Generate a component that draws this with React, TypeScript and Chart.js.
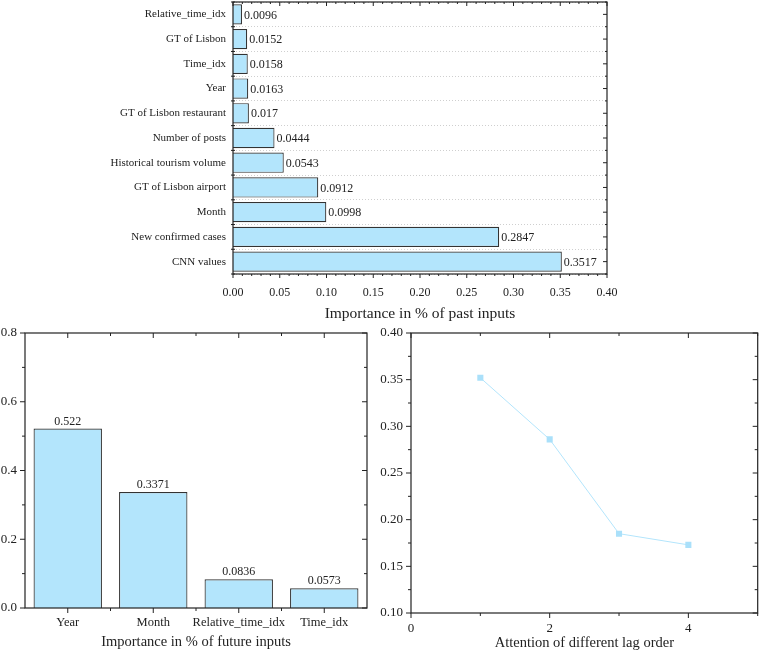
import React, { useEffect, useRef } from 'react';
import { Chart, registerables } from 'chart.js';
Chart.register(...registerables);

// ---------- data ----------
const pastLabels = [
  'Relative_time_idx',
  'GT of Lisbon',
  'Time_idx',
  'Year',
  'GT of Lisbon restaurant',
  'Number of posts',
  'Historical tourism volume',
  'GT of Lisbon airport',
  'Month',
  'New confirmed cases',
  'CNN values',
];
const pastValues = [0.0096, 0.0152, 0.0158, 0.0163, 0.017, 0.0444, 0.0543, 0.0912, 0.0998, 0.2847, 0.3517];

const futureLabels = ['Year', 'Month', 'Relative_time_idx', 'Time_idx'];
const futureValues = [0.522, 0.3371, 0.0836, 0.0573];

const lagOrders = [1, 2, 3, 4];
const lagAttention = [0.352, 0.286, 0.185, 0.173];

const pastTickMajor = [0, 0.05, 0.1, 0.15, 0.2, 0.25, 0.3, 0.35, 0.4];
const pastTickMinor = [0.01, 0.02, 0.03, 0.04, 0.06, 0.07, 0.08, 0.09, 0.11, 0.12, 0.13, 0.14, 0.16, 0.17, 0.18, 0.19, 0.21, 0.22, 0.23, 0.24, 0.26, 0.27, 0.28, 0.29, 0.31, 0.32, 0.33, 0.34, 0.36, 0.37, 0.38, 0.39];
const futureYMajor = [0, 0.2, 0.4, 0.6, 0.8];
const futureYMinor = [0.1, 0.3, 0.5, 0.7];
const lagYMajor = [0.1, 0.15, 0.2, 0.25, 0.3, 0.35, 0.4];
const lagYMinor = [0.125, 0.175, 0.225, 0.275, 0.325, 0.375];
const lagXMajor = [0, 2, 4];
const lagXMinor = [1, 3, 5];

// ---------- style ----------
const FONT = '"Liberation Serif", "Times New Roman", serif';
const BAR_FILL = 'rgb(179,229,252)';
const INK = '#222';

Chart.defaults.font.family = FONT;
Chart.defaults.color = INK;

const centers = (n: number) => Array.from({ length: n }, (_, i) => i);
const bounds = (n: number) => Array.from({ length: n + 1 }, (_, i) => i - 0.5);

const noPad = (s: any) => {
  s.paddingTop = 0;
  s.paddingBottom = 0;
  s.paddingLeft = 0;
  s.paddingRight = 0;
};

const framePlugin = {
  id: 'frame',
  afterDatasetsDraw(chart: any, _args: any, opts: any) {
    const { ctx, chartArea: a } = chart;
    ctx.save();
    ctx.strokeStyle = INK;
    ctx.lineWidth = 1.2;
    ctx.setLineDash([]);
    ctx.strokeRect(a.left, a.top, a.right - a.left, a.bottom - a.top);
    ctx.lineWidth = 1;
    for (const t of opts.ticks || []) {
      const sc = chart.scales[t.scale];
      for (const v of t.values) {
        const p = sc.getPixelForValue(v);
        ctx.beginPath();
        if (t.side === 'left' || t.side === 'right') {
          const x0 = t.side === 'left' ? a.left : a.right;
          const o = t.side === 'left' ? -1 : 1;
          let s = x0, e = x0;
          if (t.dir === 'out' || t.dir === 'both') e = x0 + o * t.len;
          if (t.dir === 'in' || t.dir === 'both') s = x0 - o * t.len;
          ctx.moveTo(s, p);
          ctx.lineTo(e, p);
        } else {
          const y0 = t.side === 'top' ? a.top : a.bottom;
          const o = t.side === 'top' ? -1 : 1;
          let s = y0, e = y0;
          if (t.dir === 'out' || t.dir === 'both') e = y0 + o * t.len;
          if (t.dir === 'in' || t.dir === 'both') s = y0 - o * t.len;
          ctx.moveTo(p, s);
          ctx.lineTo(p, e);
        }
        ctx.stroke();
      }
    }
    ctx.restore();
  },
};

const valueLabelPlugin = {
  id: 'valueLabels',
  afterDatasetsDraw(chart: any, _args: any, opts: any) {
    if (!opts || !opts.display) return;
    const { ctx } = chart;
    const meta = chart.getDatasetMeta(0);
    const data = chart.data.datasets[0].data;
    ctx.save();
    ctx.font = `${opts.size}px ${FONT}`;
    ctx.fillStyle = INK;
    meta.data.forEach((el: any, i: number) => {
      const txt = String(data[i]);
      if (opts.horizontal) {
        ctx.textAlign = 'left';
        ctx.textBaseline = 'middle';
        ctx.fillText(txt, el.x + 2, el.y + 1);
      } else {
        ctx.textAlign = 'center';
        ctx.textBaseline = 'bottom';
        ctx.fillText(txt, el.x, el.y - 1);
      }
    });
    ctx.restore();
  },
};

function useChart(ref: React.RefObject<HTMLCanvasElement>, makeConfig: () => any) {
  useEffect(() => {
    if (!ref.current) return;
    const chart = new Chart(ref.current, makeConfig());
    return () => chart.destroy();
  }, []);
}

function PastChart() {
  const ref = useRef<HTMLCanvasElement>(null);
  useChart(ref, () => ({
    type: 'bar',
    data: {
      labels: pastLabels,
      datasets: [
        {
          data: pastValues,
          backgroundColor: BAR_FILL,
          borderColor: '#333',
          borderWidth: 1.2,
          barPercentage: 0.82,
          categoryPercentage: 1,
        },
      ],
    },
    plugins: [framePlugin, valueLabelPlugin],
    options: {
      responsive: false,
      animation: false,
      indexAxis: 'y',
      layout: { padding: { top: 2, right: 33, left: 0, bottom: 0 } },
      plugins: {
        legend: { display: false },
        tooltip: { enabled: false },
        valueLabels: { display: true, horizontal: true, size: 12 },
        frame: {
          ticks: [
            { scale: 'x', values: pastTickMajor, len: 4, side: 'bottom', dir: 'out' },
            { scale: 'x', values: pastTickMinor, len: 2, side: 'bottom', dir: 'out' },
            { scale: 'x', values: pastTickMajor, len: 4, side: 'top', dir: 'in' },
            { scale: 'x', values: pastTickMinor, len: 2, side: 'top', dir: 'in' },
            { scale: 'y', values: bounds(pastLabels.length), len: 2, side: 'left', dir: 'both' },
            { scale: 'y', values: centers(pastLabels.length), len: 4, side: 'right', dir: 'in' },
            { scale: 'y', values: bounds(pastLabels.length), len: 2, side: 'right', dir: 'in' },
          ],
        },
      },
      scales: {
        x: {
          min: 0,
          max: 0.4,
          grid: { display: false, drawTicks: false },
          border: { display: false },
          ticks: { stepSize: 0.05, padding: 12, font: { size: 12 }, maxRotation: 0, callback: (v: number) => v.toFixed(2) },
          title: { display: true, text: 'Importance in % of past inputs', font: { size: 15.5 }, padding: { top: 0, bottom: 3 } },
          afterFit: (s: any) => { s.height = 52; noPad(s); },
        },
        y: {
          grid: { display: true, drawTicks: false, color: '#cfcfcf', lineWidth: 1 },
          border: { display: false, dash: [1, 2] },
          ticks: { padding: 7, font: { size: 11 } },
          afterFit: (s: any) => { s.width = 233; noPad(s); },
        },
      },
    },
  }));
  return <canvas ref={ref} width={640} height={326} style={{ display: 'block' }} />;
}

function FutureChart() {
  const ref = useRef<HTMLCanvasElement>(null);
  useChart(ref, () => ({
    type: 'bar',
    data: {
      labels: futureLabels,
      datasets: [
        {
          data: futureValues,
          backgroundColor: BAR_FILL,
          borderColor: '#333',
          borderWidth: 1.2,
          barPercentage: 0.8,
          categoryPercentage: 1,
        },
      ],
    },
    plugins: [framePlugin, valueLabelPlugin],
    options: {
      responsive: false,
      animation: false,
      layout: { padding: { top: 13, right: 13, left: 0, bottom: 0 } },
      plugins: {
        legend: { display: false },
        tooltip: { enabled: false },
        valueLabels: { display: true, horizontal: false, size: 12 },
        frame: {
          ticks: [
            { scale: 'y', values: futureYMajor, len: 5, side: 'left', dir: 'out' },
            { scale: 'y', values: futureYMinor, len: 3, side: 'left', dir: 'out' },
            { scale: 'y', values: futureYMajor, len: 5, side: 'right', dir: 'in' },
            { scale: 'y', values: futureYMinor, len: 3, side: 'right', dir: 'in' },
            { scale: 'x', values: centers(futureLabels.length), len: 5, side: 'bottom', dir: 'out' },
            { scale: 'x', values: bounds(futureLabels.length).slice(1, -1), len: 3, side: 'bottom', dir: 'out' },
            { scale: 'x', values: centers(futureLabels.length), len: 5, side: 'top', dir: 'in' },
            { scale: 'x', values: bounds(futureLabels.length).slice(1, -1), len: 3, side: 'top', dir: 'in' },
          ],
        },
      },
      scales: {
        x: {
          grid: { display: false, drawTicks: false },
          border: { display: false },
          ticks: { padding: 7, font: { size: 12.5 }, maxRotation: 0, minRotation: 0, autoSkip: false },
          title: { display: true, text: 'Importance in % of future inputs', font: { size: 14.5 }, padding: { top: 0, bottom: 2 } },
          afterFit: (s: any) => { s.height = 45; noPad(s); },
        },
        y: {
          min: 0,
          max: 0.8,
          grid: { display: false, drawTicks: false },
          border: { display: false },
          ticks: { stepSize: 0.2, padding: 8, font: { size: 13 }, callback: (v: number) => v.toFixed(1) },
          afterFit: (s: any) => { s.width = 25; noPad(s); },
        },
      },
    },
  }));
  return <canvas ref={ref} width={380} height={333} style={{ display: 'block' }} />;
}

function LagChart() {
  const ref = useRef<HTMLCanvasElement>(null);
  useChart(ref, () => ({
    type: 'line',
    data: {
      datasets: [
        {
          data: lagOrders.map((x, i) => ({ x, y: lagAttention[i] })),
          borderColor: BAR_FILL,
          borderWidth: 1,
          backgroundColor: BAR_FILL,
          pointStyle: 'rect',
          pointRadius: 4.3,
          pointBorderWidth: 0,
          pointBackgroundColor: 'rgb(170,224,250)',
          tension: 0,
        },
      ],
    },
    plugins: [framePlugin],
    options: {
      responsive: false,
      animation: false,
      layout: { padding: { top: 13, right: 3, left: 0, bottom: 0 } },
      plugins: {
        legend: { display: false },
        tooltip: { enabled: false },
        frame: {
          ticks: [
            { scale: 'y', values: lagYMajor, len: 5, side: 'left', dir: 'out' },
            { scale: 'y', values: lagYMinor, len: 3, side: 'left', dir: 'out' },
            { scale: 'y', values: lagYMajor, len: 5, side: 'right', dir: 'in' },
            { scale: 'y', values: lagYMinor, len: 3, side: 'right', dir: 'in' },
            { scale: 'x', values: lagXMajor, len: 5, side: 'bottom', dir: 'out' },
            { scale: 'x', values: lagXMinor, len: 3, side: 'bottom', dir: 'out' },
            { scale: 'x', values: lagXMajor, len: 5, side: 'top', dir: 'in' },
            { scale: 'x', values: lagXMinor, len: 3, side: 'top', dir: 'in' },
          ],
        },
      },
      scales: {
        x: {
          type: 'linear',
          min: 0,
          max: 5,
          grid: { display: false, drawTicks: false },
          border: { display: false },
          ticks: { padding: 8, font: { size: 13 }, maxRotation: 0 },
          afterBuildTicks: (s: any) => { s.ticks = lagXMajor.map((v) => ({ value: v })); },
          title: { display: true, text: 'Attention of different lag order', font: { size: 14.5 }, padding: { top: 0, bottom: 1 } },
          afterFit: (s: any) => { s.height = 40; noPad(s); },
        },
        y: {
          min: 0.1,
          max: 0.4,
          grid: { display: false, drawTicks: false },
          border: { display: false },
          ticks: { stepSize: 0.05, padding: 8, font: { size: 13 }, callback: (v: number) => v.toFixed(2) },
          afterFit: (s: any) => { s.width = 31; noPad(s); },
        },
      },
    },
  }));
  return <canvas ref={ref} width={382} height={333} style={{ display: 'block' }} />;
}

export default function App() {
  return (
    <div style={{ position: 'fixed', left: 0, top: 0, width: 762, height: 653, background: '#fff', overflow: 'hidden' }}>
      <div style={{ position: 'absolute', left: 0, top: 0 }}>
        <PastChart />
      </div>
      <div style={{ position: 'absolute', left: 0, top: 320 }}>
        <FutureChart />
      </div>
      <div style={{ position: 'absolute', left: 380, top: 320 }}>
        <LagChart />
      </div>
    </div>
  );
}
